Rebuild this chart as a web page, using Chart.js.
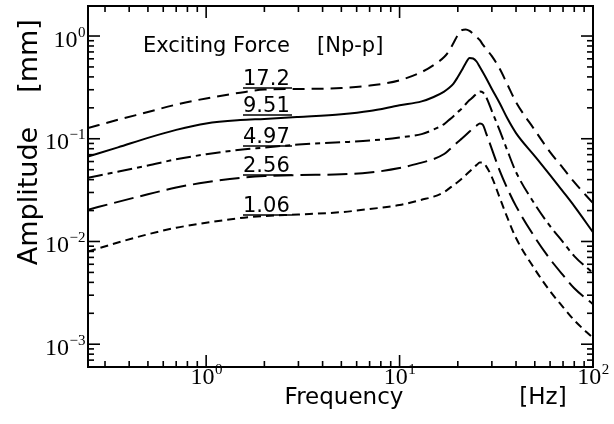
<!DOCTYPE html>
<html>
<head>
<meta charset="utf-8">
<script src="https://cdn.jsdelivr.net/npm/chart.js@4"></script>
<style>
  html, body { margin: 0; padding: 0; background: #fff; }
</style>
</head>
<body>
<canvas id="ampChart" width="614" height="424"></canvas>
<script>
// frequency grid [Hz] and amplitudes [mm]
const freqs = [0.245, 0.35, 0.5, 0.7, 1, 1.5, 2, 3, 5, 7, 10, 13, 15, 17, 18, 19, 20, 21, 22, 23, 24, 25, 26, 27, 28, 30, 33, 36, 40, 50, 60, 70, 80, 100];
const amp172 = [0.127, 0.153, 0.182, 0.215, 0.247, 0.281, 0.301, 0.305, 0.312, 0.329, 0.371, 0.446, 0.522, 0.624, 0.714, 0.855, 1.02, 1.14, 1.157, 1.12, 1.05, 0.98, 0.91, 0.82, 0.75, 0.638, 0.477, 0.341, 0.2275, 0.1215, 0.0742, 0.0518, 0.0378, 0.0236];
const amp951 = [0.0672, 0.0824, 0.102, 0.122, 0.141, 0.152, 0.156, 0.163, 0.173, 0.186, 0.212, 0.231, 0.255, 0.288, 0.3115, 0.3446, 0.399, 0.4664, 0.5458, 0.6105, 0.604, 0.565, 0.499, 0.441, 0.39, 0.305, 0.22, 0.159, 0.1136, 0.0678, 0.0443, 0.0306, 0.0221, 0.0123];
const amp497 = [0.0418, 0.0478, 0.0549, 0.0631, 0.0706, 0.0781, 0.082, 0.0878, 0.0924, 0.096, 0.103, 0.111, 0.123, 0.139, 0.152, 0.166, 0.182, 0.197, 0.218, 0.238, 0.255, 0.275, 0.288, 0.282, 0.255, 0.186, 0.119, 0.0776, 0.0474, 0.0231, 0.0141, 0.00986, 0.0072, 0.00492];
const amp256 = [0.0204, 0.0243, 0.0288, 0.0335, 0.0377, 0.0416, 0.0433, 0.0443, 0.0451, 0.0469, 0.0518, 0.0586, 0.0634, 0.071, 0.0776, 0.0849, 0.0929, 0.1005, 0.1086, 0.1175, 0.127, 0.134, 0.1406, 0.136, 0.1136, 0.0793, 0.0484, 0.0331, 0.0221, 0.0110, 0.00673, 0.0047, 0.00351, 0.00245];
const amp106 = [0.00798, 0.00977, 0.01175, 0.0136, 0.0152, 0.0169, 0.0177, 0.0183, 0.0193, 0.0207, 0.0226, 0.0255, 0.0273, 0.0303, 0.0327, 0.0354, 0.0379, 0.041, 0.0443, 0.0479, 0.0518, 0.0554, 0.0586, 0.0586, 0.0542, 0.0424, 0.0264, 0.01726, 0.0108, 0.00538, 0.00328, 0.0023, 0.00171, 0.00115];

const forceLabels = ["17.2", "9.51", "4.97", "2.56", "1.06"];
const xTickExps = [0, 1, 2];
const yTickExps = [-3, -2, -1, 0];

const SANS = '"DejaVu Sans", sans-serif';
const SERIF = '"Liberation Serif", serif';

function pts(amps) {
  return freqs.map((f, i) => ({ x: f, y: amps[i] }));
}

function line(ctx, x1, y1, x2, y2) {
  ctx.beginPath();
  ctx.moveTo(x1, y1);
  ctx.lineTo(x2, y2);
  ctx.stroke();
}

// "10" with a raised exponent
function drawPow(ctx, exp, x, base, align) {
  const e = exp < 0 ? '\u2212' + (-exp) : String(exp);
  ctx.font = '24px ' + SERIF;
  const w1 = ctx.measureText('10').width;
  ctx.font = '15px ' + SERIF;
  const w2 = ctx.measureText(e).width;
  let start = align === 'right' ? x - w1 - w2 : x - (w1 + w2) / 2;
  ctx.textAlign = 'left';
  ctx.font = '24px ' + SERIF;
  ctx.fillText('10', start, base);
  ctx.font = '15px ' + SERIF;
  ctx.fillText(e, start + w1 + 0.5, base - 10);
}

const frame = {
  id: 'frame',
  afterDatasetsDraw(chart) {
    const { ctx, chartArea: a, scales: { x, y } } = chart;
    ctx.save();
    ctx.strokeStyle = '#000';
    ctx.fillStyle = '#000';
    ctx.lineWidth = 1.6;

    // inward ticks on all four sides
    for (let e = -1; e <= 2; e++) {
      for (let m = 1; m <= 9; m++) {
        const v = m * Math.pow(10, e);
        if (v < x.min * 0.999 || v > x.max * 1.001) continue;
        const px = x.getPixelForValue(v);
        const len = m === 1 ? 12 : 6;
        line(ctx, px, a.bottom, px, a.bottom - len);
        line(ctx, px, a.top, px, a.top + len);
      }
    }
    for (let e = -4; e <= 0; e++) {
      for (let m = 1; m <= 9; m++) {
        const v = m * Math.pow(10, e);
        if (v < y.min || v > y.max) continue;
        const py = y.getPixelForValue(v);
        const len = m === 1 ? 12 : 6;
        line(ctx, a.left, py, a.left + len, py);
        line(ctx, a.right, py, a.right - len, py);
      }
    }
    ctx.lineWidth = 2;
    ctx.strokeRect(a.left, a.top, a.right - a.left, a.bottom - a.top);

    // tick labels
    ctx.textBaseline = 'alphabetic';
    xTickExps.forEach(e => drawPow(ctx, e, x.getPixelForValue(Math.pow(10, e)), a.bottom + 17, 'center'));
    yTickExps.forEach(e => drawPow(ctx, e, a.left - 3, y.getPixelForValue(Math.pow(10, e)) + 10.5, 'right'));

    // axis titles
    ctx.font = '23px ' + SANS;
    ctx.textAlign = 'center';
    ctx.fillText('Frequency', 344, 404);
    ctx.fillText('[Hz]', 543, 404);

    ctx.save();
    ctx.translate(37, 0);
    ctx.rotate(-Math.PI / 2);
    ctx.font = '27px ' + SANS;
    ctx.textAlign = 'center';
    ctx.fillText('Amplitude', -196, 0);
    ctx.fillText('[mm]', -56, 0);
    ctx.restore();

    // annotation of the exciting forces
    ctx.font = '21px ' + SANS;
    ctx.textAlign = 'left';
    ctx.fillText('Exciting Force', 143, 52);
    ctx.fillText('[Np-p]', 317, 52);

    const under = [88, 115, 146, 175, 215];
    ctx.lineWidth = 1.5;
    forceLabels.forEach((t, i) => {
      ctx.fillText(t, 243, under[i] - 3);
      line(ctx, 243, under[i], 292, under[i]);
    });
    ctx.restore();
  }
};

const styles = [
  { data: amp172, dash: [12, 7] },
  { data: amp951, dash: [] },
  { data: amp497, dash: [15, 5, 5, 5] },
  { data: amp256, dash: [20, 7] },
  { data: amp106, dash: [8, 5] }
];

new Chart('ampChart', {
  type: 'line',
  data: {
    datasets: styles.map((s, i) => ({
      label: forceLabels[i],
      data: pts(s.data),
      borderColor: '#000',
      borderWidth: 2,
      borderDash: s.dash,
      pointRadius: 0,
      fill: false,
      cubicInterpolationMode: 'monotone'
    }))
  },
  options: {
    responsive: false,
    animation: false,
    layout: { padding: { left: 88, right: 21, top: 6, bottom: 57 } },
    plugins: { legend: { display: false }, tooltip: { enabled: false } },
    scales: {
      x: { type: 'logarithmic', min: 0.245, max: 100, display: false },
      y: { type: 'logarithmic', min: 0.0006, max: 1.96, display: false }
    }
  },
  plugins: [frame]
});
</script>
</body>
</html>
